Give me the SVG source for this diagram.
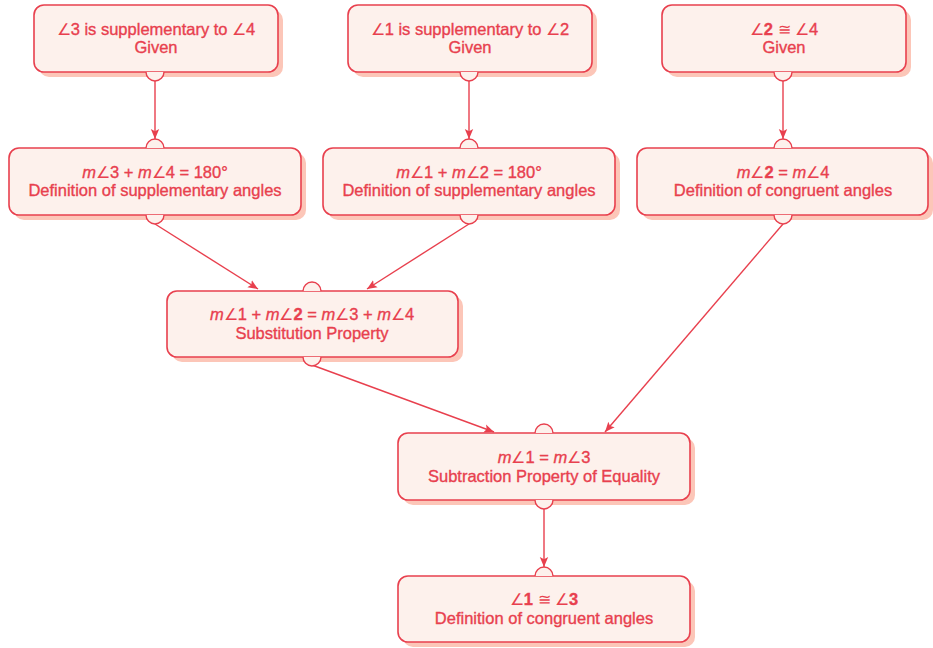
<svg xmlns="http://www.w3.org/2000/svg" width="933" height="648" viewBox="0 0 933 648">
  <style>
    .shadow { fill: #fcc6b8; }
    .box { fill: #fdf1ec; stroke: #e8404e; stroke-width: 1.6; }
    .cap { fill: #fdf1ec; stroke: #e8404e; stroke-width: 1.4; }
    .edge { fill: none; stroke: #e8404e; stroke-width: 1.4; }
    text { font-family: "Liberation Sans", Arial, sans-serif; font-size: 16.5px; fill: #e8404e; stroke: #e8404e; stroke-width: 0.35; text-anchor: middle; }
    .m { font-style: italic; }
    .b { font-weight: bold; }
    .a { stroke-width: 0; font-size: 15.5px; }
  </style>
  <defs>
    <marker id="arrow" viewBox="0 0 10 10" refX="10" refY="5" markerWidth="10" markerHeight="10" markerUnits="userSpaceOnUse" orient="auto">
      <path d="M0,0.8 L10,5 L0,9.2 L2.2,5 Z" fill="#e8404e"/>
    </marker>
  </defs>

  <!-- connectors -->
  <g id="connectors">
    <line class="edge" x1="155" y1="81" x2="155" y2="139" marker-end="url(#arrow)"/>
    <line class="edge" x1="469" y1="81" x2="469" y2="139" marker-end="url(#arrow)"/>
    <line class="edge" x1="783" y1="81" x2="783" y2="139" marker-end="url(#arrow)"/>
    <line class="edge" x1="155" y1="224" x2="258" y2="289" marker-end="url(#arrow)"/>
    <line class="edge" x1="469" y1="224" x2="367" y2="289" marker-end="url(#arrow)"/>
    <line class="edge" x1="783" y1="224" x2="605" y2="432" marker-end="url(#arrow)"/>
    <line class="edge" x1="312" y1="365" x2="494" y2="432" marker-end="url(#arrow)"/>
    <line class="edge" x1="544" y1="509" x2="544" y2="567" marker-end="url(#arrow)"/>
  </g>

  <!-- row 1: givens -->
  <g id="given-3-4">
    <rect class="shadow" x="39" y="10" width="244" height="67" rx="10"/>
    <rect class="box" x="34" y="5" width="244" height="67" rx="10"/>
    <path class="cap" d="M146,72 A9,9 0 0 0 164,72"/>
    <text x="156" y="34.5"><tspan class="a">∠</tspan>3 is supplementary to <tspan class="a">∠</tspan>4</text>
    <text x="156" y="53">Given</text>
  </g>
  <g id="given-1-2">
    <rect class="shadow" x="353" y="10" width="244" height="67" rx="10"/>
    <rect class="box" x="348" y="5" width="244" height="67" rx="10"/>
    <path class="cap" d="M460,72 A9,9 0 0 0 478,72"/>
    <text x="470" y="34.5"><tspan class="a">∠</tspan>1 is supplementary to <tspan class="a">∠</tspan>2</text>
    <text x="470" y="53">Given</text>
  </g>
  <g id="given-2-4">
    <rect class="shadow" x="667" y="10" width="244" height="67" rx="10"/>
    <rect class="box" x="662" y="5" width="244" height="67" rx="10"/>
    <path class="cap" d="M774,72 A9,9 0 0 0 792,72"/>
    <text x="784" y="34.5"><tspan class="a">∠</tspan><tspan class="b">2</tspan> <tspan class="a">≅</tspan> <tspan class="a">∠</tspan>4</text>
    <text x="784" y="53">Given</text>
  </g>

  <!-- row 2 -->
  <g id="supp-3-4">
    <rect class="shadow" x="14" y="153" width="292" height="67" rx="10"/>
    <rect class="box" x="9" y="148" width="292" height="67" rx="10"/>
    <path class="cap" d="M146,148 A9,9 0 0 1 164,148"/>
    <path class="cap" d="M146,215 A9,9 0 0 0 164,215"/>
    <text x="155" y="177.5"><tspan class="m">m</tspan><tspan class="a">∠</tspan>3 + <tspan class="m">m</tspan><tspan class="a">∠</tspan>4 = 180°</text>
    <text x="155" y="196">Definition of supplementary angles</text>
  </g>
  <g id="supp-1-2">
    <rect class="shadow" x="328" y="153" width="292" height="67" rx="10"/>
    <rect class="box" x="323" y="148" width="292" height="67" rx="10"/>
    <path class="cap" d="M460,148 A9,9 0 0 1 478,148"/>
    <path class="cap" d="M460,215 A9,9 0 0 0 478,215"/>
    <text x="469" y="177.5"><tspan class="m">m</tspan><tspan class="a">∠</tspan>1 + <tspan class="m">m</tspan><tspan class="a">∠</tspan>2 = 180°</text>
    <text x="469" y="196">Definition of supplementary angles</text>
  </g>
  <g id="cong-2-4">
    <rect class="shadow" x="642" y="153" width="291" height="67" rx="10"/>
    <rect class="box" x="637" y="148" width="291" height="67" rx="10"/>
    <path class="cap" d="M774,148 A9,9 0 0 1 792,148"/>
    <path class="cap" d="M774,215 A9,9 0 0 0 792,215"/>
    <text x="783" y="177.5"><tspan class="m">m</tspan><tspan class="a">∠</tspan><tspan class="b">2</tspan> = <tspan class="m">m</tspan><tspan class="a">∠</tspan>4</text>
    <text x="783" y="196">Definition of congruent angles</text>
  </g>

  <!-- row 3 -->
  <g id="substitution">
    <rect class="shadow" x="172" y="296" width="291" height="66" rx="10"/>
    <rect class="box" x="167" y="291" width="291" height="66" rx="10"/>
    <path class="cap" d="M303,291 A9,9 0 0 1 321,291"/>
    <path class="cap" d="M303,357 A9,9 0 0 0 321,357"/>
    <text x="312" y="320"><tspan class="m">m</tspan><tspan class="a">∠</tspan>1 + <tspan class="m">m</tspan><tspan class="a">∠</tspan><tspan class="b">2</tspan> = <tspan class="m">m</tspan><tspan class="a">∠</tspan>3 + <tspan class="m">m</tspan><tspan class="a">∠</tspan>4</text>
    <text x="312" y="339">Substitution Property</text>
  </g>

  <!-- row 4 -->
  <g id="subtraction">
    <rect class="shadow" x="403" y="438" width="292" height="67" rx="10"/>
    <rect class="box" x="398" y="433" width="292" height="67" rx="10"/>
    <path class="cap" d="M535,433 A9,9 0 0 1 553,433"/>
    <path class="cap" d="M535,500 A9,9 0 0 0 553,500"/>
    <text x="544" y="463"><tspan class="m">m</tspan><tspan class="a">∠</tspan>1 = <tspan class="m">m</tspan><tspan class="a">∠</tspan>3</text>
    <text x="544" y="482">Subtraction Property of Equality</text>
  </g>

  <!-- row 5 -->
  <g id="conclusion">
    <rect class="shadow" x="403" y="581" width="292" height="66" rx="10"/>
    <rect class="box" x="398" y="576" width="292" height="66" rx="10"/>
    <path class="cap" d="M535,576 A9,9 0 0 1 553,576"/>
    <text x="544" y="605"><tspan class="a">∠</tspan><tspan class="b">1</tspan> <tspan class="a">≅</tspan> <tspan class="a">∠</tspan><tspan class="b">3</tspan></text>
    <text x="544" y="624">Definition of congruent angles</text>
  </g>
</svg>
